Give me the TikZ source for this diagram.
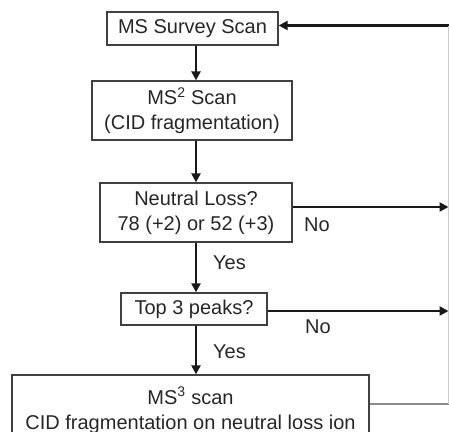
\documentclass[tikz,border=0pt]{standalone}
\usepackage{fontspec}
\setmainfont{Liberation Sans}
\usetikzlibrary{arrows.meta}
\tikzset{
  scanbox/.style={draw=black!75, line width=1.3pt, align=center, inner sep=0pt,
    text=black!85, font=\fontsize{20}{25}\selectfont},
  answer/.style={anchor=west, inner sep=0pt, text=black!85, font=\fontsize{20}{25}\selectfont},
  flow/.style={-{Triangle[length=9pt,width=9pt]}, line width=2.4pt, black!90},
}
\begin{document}
\begin{tikzpicture}[x=1pt,y=-1pt]
    \clip (0,0) rectangle (449,431);
    \node[scanbox, minimum width=171pt, minimum height=33pt] (survey) at (192.5,28.5) {MS Survey Scan};
    \node[scanbox, minimum width=200pt, minimum height=59pt] (mstwo) at (192,110.5) {MS\textsuperscript{2} Scan\\(CID fragmentation)};
    \node[scanbox, minimum width=192pt, minimum height=59pt] (loss) at (196,212.5) {Neutral Loss?\\78 (+2) or 52 (+3)};
    \node[scanbox, minimum width=146pt, minimum height=32pt] (peaks) at (194,309) {Top 3 peaks?};
    \node[scanbox, minimum width=357pt, minimum height=70pt] (msthree) at (190.5,410) {MS\textsuperscript{3} scan\\CID fragmentation on neutral loss ion};
    \node[answer] (no1) at (304,225) {No};
    \node[answer] (yes1) at (213,263) {Yes};
    \node[answer] (no2) at (305,327) {No};
    \node[answer] (yes2) at (213,352) {Yes};
    \coordinate (spine) at (196,0);
    \coordinate (rim) at (448.5,0);
    \coordinate (back) at (448.5,404);

    \path[flow]
    (survey.south -| spine) edge (mstwo.north -| spine)
    (mstwo.south -| spine) edge (loss.north -| spine)
    (loss.south -| spine) edge (peaks.north -| spine)
    (peaks.south -| spine) edge (msthree.north -| spine)
    ([yshift=5.5pt]loss.east) edge ([yshift=5.5pt]loss.east -| rim)
    ([yshift=-2pt]peaks.east) edge ([yshift=-2pt]peaks.east -| rim)
    ([yshift=3pt]survey.east -| rim) edge ([yshift=3pt]survey.east);
    \draw[black!45, line width=1.5pt] (back -| msthree.east) -- (back);
    \draw[black!20, line width=1pt] (back) -- ([yshift=3pt]survey.east -| rim);
\end{tikzpicture}
\end{document}
